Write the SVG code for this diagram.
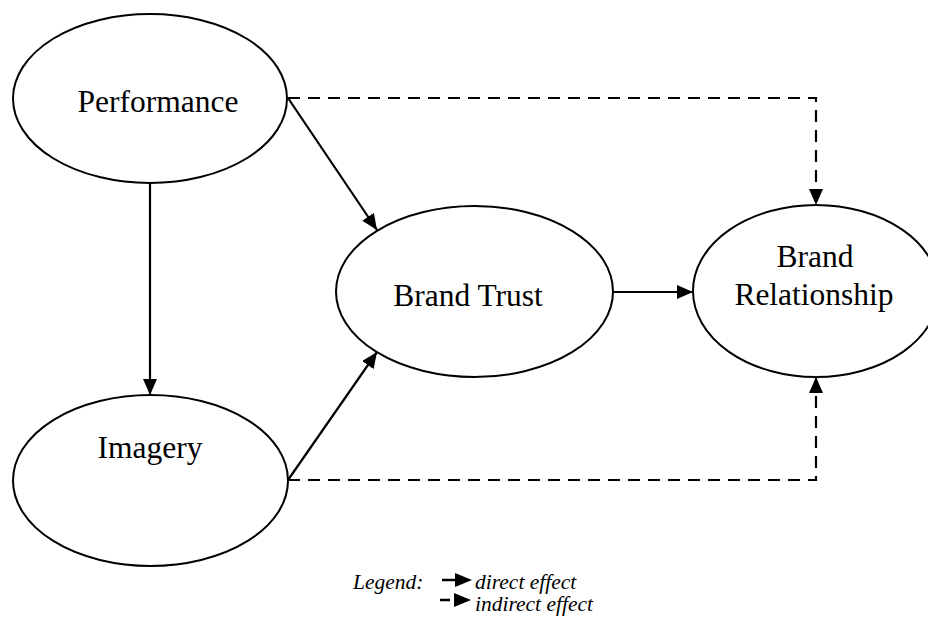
<svg xmlns="http://www.w3.org/2000/svg" width="928" height="621" viewBox="0 0 928 621">
<style>
.node{fill:#fff;stroke:#000;stroke-width:2}
.lbl{font-family:"Liberation Serif","Times New Roman",serif;font-size:31.5px;fill:#000;text-anchor:middle}
.edge{fill:none;stroke:#000;stroke-width:2.2}
.dash{stroke-dasharray:12 8}
.leg{font-family:"Liberation Serif","Times New Roman",serif;font-size:21.5px;font-style:italic;fill:#000}
</style>
<defs>
<marker id="ah" viewBox="0 0 16 14" refX="16" refY="7" markerWidth="16" markerHeight="14" markerUnits="userSpaceOnUse" orient="auto">
<path d="M0,0 L16,7 L0,14 Z" fill="#000"/>
</marker>
</defs>
<rect width="928" height="621" fill="#fff"/>
<g id="performance">
<ellipse class="node" cx="150" cy="98.5" rx="137" ry="84.5"/>
<text class="lbl" x="158" y="112">Performance</text>
</g>
<g id="imagery">
<ellipse class="node" cx="150.5" cy="480.5" rx="137.5" ry="85.5"/>
<text class="lbl" x="150" y="458">Imagery</text>
</g>
<g id="brand-trust">
<ellipse class="node" cx="474.5" cy="291.5" rx="138.5" ry="85.5"/>
<text class="lbl" x="468" y="306">Brand Trust</text>
</g>
<g id="brand-relationship">
<ellipse class="node" cx="816" cy="291" rx="123" ry="86"/>
<text class="lbl" x="815" y="267">Brand</text>
<text class="lbl" x="814" y="305">Relationship</text>
</g>
<g id="connectors">
<path class="edge" d="M150,183 V395" marker-end="url(#ah)"/>
<path class="edge" d="M288,98 L377,230" marker-end="url(#ah)"/>
<path class="edge" d="M288,480 L377,352" marker-end="url(#ah)"/>
<path class="edge" d="M613,292 H693" marker-end="url(#ah)"/>
<path class="edge dash" d="M288,98 H816 V205" marker-end="url(#ah)"/>
<path class="edge dash" d="M288,480 H816 V377" marker-end="url(#ah)"/>
</g>
<g id="legend">
<text class="leg" x="353" y="589">Legend:</text>
<path d="M442,580 H457" stroke="#000" stroke-width="2.5" fill="none"/>
<path d="M455,573 L472,580 L455,587 Z" fill="#000"/>
<text class="leg" x="475" y="589">direct effect</text>
<path d="M440,600 H450" stroke="#000" stroke-width="2.5" fill="none"/>
<path d="M454,593 L471,600 L454,607 Z" fill="#000"/>
<text class="leg" x="475" y="611">indirect effect</text>
</g>
</svg>
